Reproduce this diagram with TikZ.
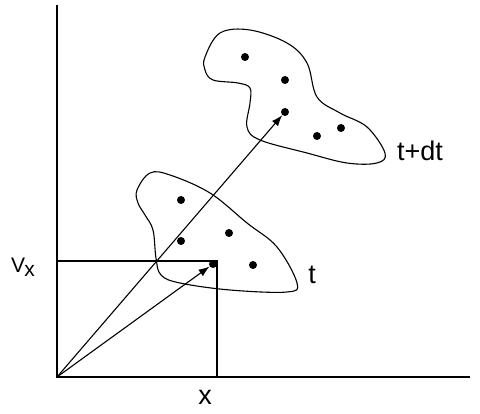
\documentclass[tikz,border=0pt]{standalone}
\usepackage{fontspec}
\setmainfont{Liberation Sans}
\usetikzlibrary{arrows.meta}
\begin{document}
\begin{tikzpicture}[x=1pt,y=-1pt,
  ln/.style={line width=1.1pt},
  blob/.style={line width=1.1pt},
  dot/.style={circle,fill=black,inner sep=0pt,minimum size=8pt},
  vec/.style={line width=1.1pt,-{Latex[length=11pt,width=8pt]}},
  lab/.style={font=\fontsize{27}{30}\selectfont,inner sep=0pt}]
\useasboundingbox (0,0) rectangle (480,414);
\coordinate (O) at (57,377);
\coordinate (Ytop) at (57,5);
\coordinate (Xend) at (470,377);
\draw[ln] (Ytop) -- (O) -- (Xend);
% blobs
\draw[blob] plot[smooth cycle,tension=0.6] coordinates {(137,190) (150,173) (170,175) (210,193) (247,223) (277,247) (297,283) (287,292) (230,290) (180,283) (161,275) (156,258) (153,230) (145,215) (138,203)};
\draw[blob] plot[smooth cycle,tension=0.6] coordinates {(205,57) (220,33) (250,30) (287,43) (307,63) (317,97) (340,113) (367,127) (385,153) (377,163) (347,163) (307,153) (260,140) (247,127) (250,103) (250,88) (238,83) (213,80) (205,70)};
% dots
\node[dot] (a1) at (181,200) {};
\node[dot] (a2) at (181,241) {};
\node[dot] (a3) at (229,233) {};
\node[dot] (a4) at (253,265) {};
\node[dot] (p) at (213,264) {};
\node[dot] (b1) at (245,57) {};
\node[dot] (b2) at (285,80) {};
\node[dot] (q) at (285,112) {};
\node[dot] (b4) at (317,136) {};
\node[dot] (b5) at (341,128) {};
% projection lines
\coordinate (Vy) at (57,261);
\coordinate (Xx) at (217,377);
\draw[ln] (Vy) -- (217,261) -- (Xx);
% vectors
\draw[vec] (O) -- (p);
\draw[vec] (O) -- (q);
% labels
\node[inner sep=0pt,font=\fontsize{21}{24}\selectfont] (vx) at (23,267) {V\kern-1pt\raisebox{-0.4ex}{\fontsize{21}{24}\selectfont x}};
\node[lab] (xl) at (205,397) {x};
\node[lab] (tl) at (312,275) {t};
\node[lab] (tdt) at (420,151) {t+dt};
\end{tikzpicture}
\end{document}
